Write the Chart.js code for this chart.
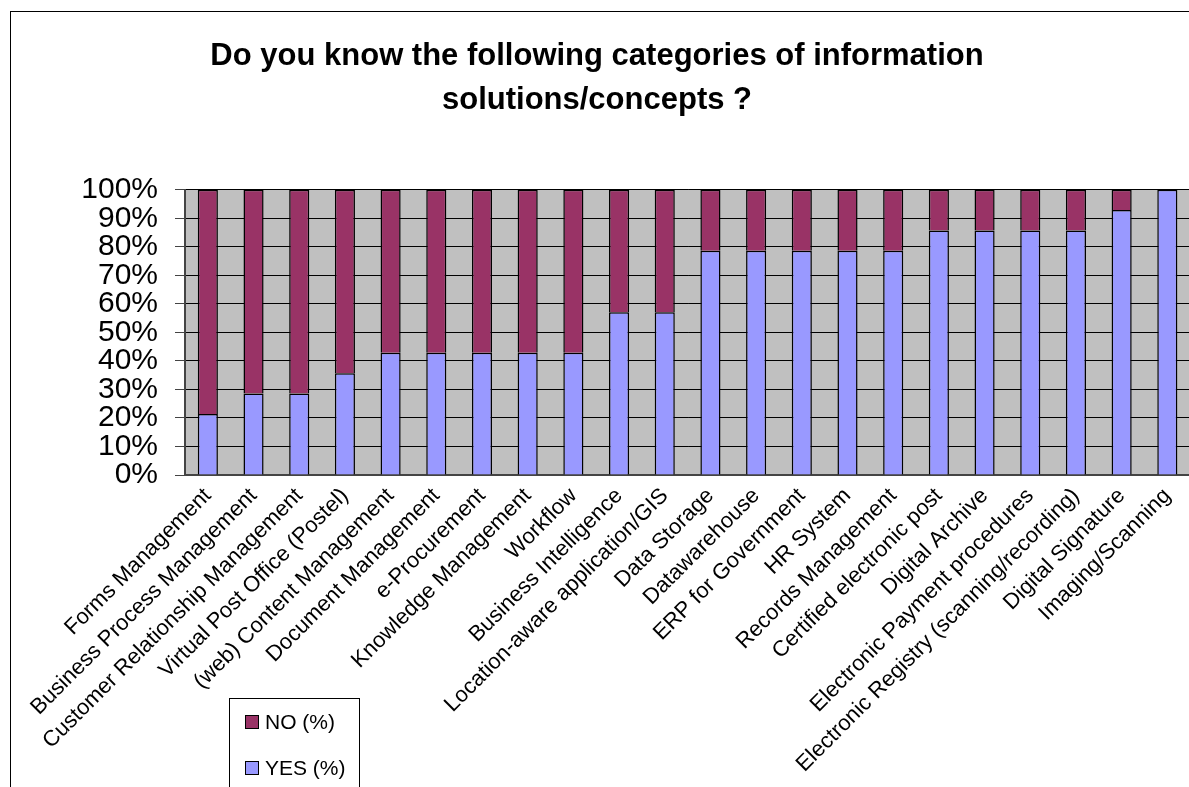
<!DOCTYPE html>
<html>
<head>
<meta charset="utf-8">
<title>Do you know the following categories of information solutions/concepts ?</title>
<script src="https://cdn.jsdelivr.net/npm/chart.js@4.4.1/dist/chart.umd.min.js"></script>
<style>
  html, body { margin: 0; padding: 0; background: #fff; overflow: hidden; }
  #wrap { position: relative; width: 1194px; height: 787px; }
</style>
</head>
<body>
<div id="wrap"><canvas id="knowChart"></canvas></div>
<script>
// categories (x axis)
const categories = [
  "Forms Management",
  "Business Process Management",
  "Customer Relationship Management",
  "Virtual Post Office (Postel)",
  "(web) Content Management",
  "Document Management",
  "e-Procurement",
  "Knowledge Management",
  "Workflow",
  "Business Intelligence",
  "Location-aware application/GIS",
  "Data Storage",
  "Datawarehouse",
  "ERP for Government",
  "HR System",
  "Records Management",
  "Certified electronic post",
  "Digital Archive",
  "Electronic Payment procedures",
  "Electronic Registry (scanning/recording)",
  "Digital Signature",
  "Imaging/Scanning"
];

// series values (%)
const yesPct = [21.4, 28.6, 28.6, 35.7, 42.9, 42.9, 42.9, 42.9, 42.9, 57.1, 57.1,
                78.6, 78.6, 78.6, 78.6, 78.6, 85.7, 85.7, 85.7, 85.7, 92.9, 100];
const noPct  = [78.6, 71.4, 71.4, 64.3, 57.1, 57.1, 57.1, 57.1, 57.1, 42.9, 42.9,
                21.4, 21.4, 21.4, 21.4, 21.4, 14.3, 14.3, 14.3, 14.3, 7.1, 0];

// y tick labels
const yTicks = [0, 10, 20, 30, 40, 50, 60, 70, 80, 90, 100];

const titleLines = ["Do you know the following categories of information", "solutions/concepts ?"];
const YES_COLOR = "#9999FF";
const NO_COLOR = "#993366";
const FONT = "'Liberation Sans', Arial, sans-serif";

// gray plot background + outer frame
const plotBg = {
  id: "plotBg",
  beforeDraw(chart) {
    const { ctx, chartArea: a } = chart;
    ctx.save();
    ctx.fillStyle = "#C0C0C0";
    ctx.fillRect(a.left, a.top, a.right - a.left, a.bottom - a.top);
    ctx.strokeStyle = "#000";
    ctx.lineWidth = 1;
    ctx.strokeRect(10.5, 11.5, 2000, 2000);
    ctx.restore();
  }
};

// legend box, bottom left, like the original sheet
const legendBox = {
  id: "legendBox",
  afterDraw(chart) {
    const ctx = chart.ctx;
    const items = [
      { text: "NO (%)", color: chart.data.datasets[1].backgroundColor, y: 722 },
      { text: "YES (%)", color: chart.data.datasets[0].backgroundColor, y: 768 }
    ];
    ctx.save();
    ctx.fillStyle = "#fff";
    ctx.fillRect(229, 698, 130, 100);
    ctx.strokeStyle = "#000";
    ctx.lineWidth = 1;
    ctx.strokeRect(229.5, 698.5, 130, 100);
    ctx.font = "21px " + FONT;
    ctx.textBaseline = "middle";
    items.forEach(it => {
      ctx.fillStyle = it.color;
      ctx.fillRect(245.5, it.y - 6.5, 13, 13);
      ctx.strokeRect(245.5, it.y - 6.5, 13, 13);
      ctx.fillStyle = "#000";
      ctx.fillText(it.text, 265, it.y + 1);
    });
    ctx.restore();
  }
};

const ctx = document.getElementById("knowChart").getContext("2d");
new Chart(ctx, {
  type: "bar",
  data: {
    labels: categories,
    datasets: [
      {
        label: "YES (%)",
        data: yesPct,
        backgroundColor: YES_COLOR,
        borderColor: "#000",
        borderWidth: 1.5,
        barPercentage: 0.44,
        categoryPercentage: 1
      },
      {
        label: "NO (%)",
        data: noPct,
        backgroundColor: NO_COLOR,
        borderColor: "#000",
        borderWidth: 1.5,
        barPercentage: 0.44,
        categoryPercentage: 1
      }
    ]
  },
  options: {
    responsive: true,
    maintainAspectRatio: false,
    animation: false,
    layout: { padding: { left: 0, right: 0, top: 0, bottom: 0 } },
    plugins: {
      legend: { display: false },
      tooltip: { enabled: false },
      title: {
        display: true,
        text: titleLines,
        color: "#000",
        font: { family: FONT, size: 31, weight: "bold", lineHeight: 1.4 },
        padding: { top: 35, bottom: 68 }
      }
    },
    scales: {
      x: {
        stacked: true,
        grid: { display: false, drawTicks: false },
        border: { display: true, color: "#444", width: 2 },
        ticks: {
          autoSkip: false,
          minRotation: 45,
          maxRotation: 45,
          padding: 8,
          color: "#000",
          font: { family: FONT, size: 22 }
        },
        afterFit(scale) { scale.height = 312; }
      },
      y: {
        stacked: true,
        min: 0,
        max: 100,
        afterBuildTicks(scale) { scale.ticks = yTicks.map(v => ({ value: v })); },
        grid: { color: "#000", lineWidth: 1, tickLength: 10, tickColor: "#444" },
        border: { display: true, color: "#444", width: 2 },
        ticks: {
          autoSkip: false,
          padding: 17,
          color: "#000",
          font: { family: FONT, size: 30, lineHeight: 0.9 },
          callback: v => v + "%"
        },
        afterFit(scale) { scale.width = 185; }
      }
    }
  },
  plugins: [plotBg, legendBox]
});
</script>
</body>
</html>
